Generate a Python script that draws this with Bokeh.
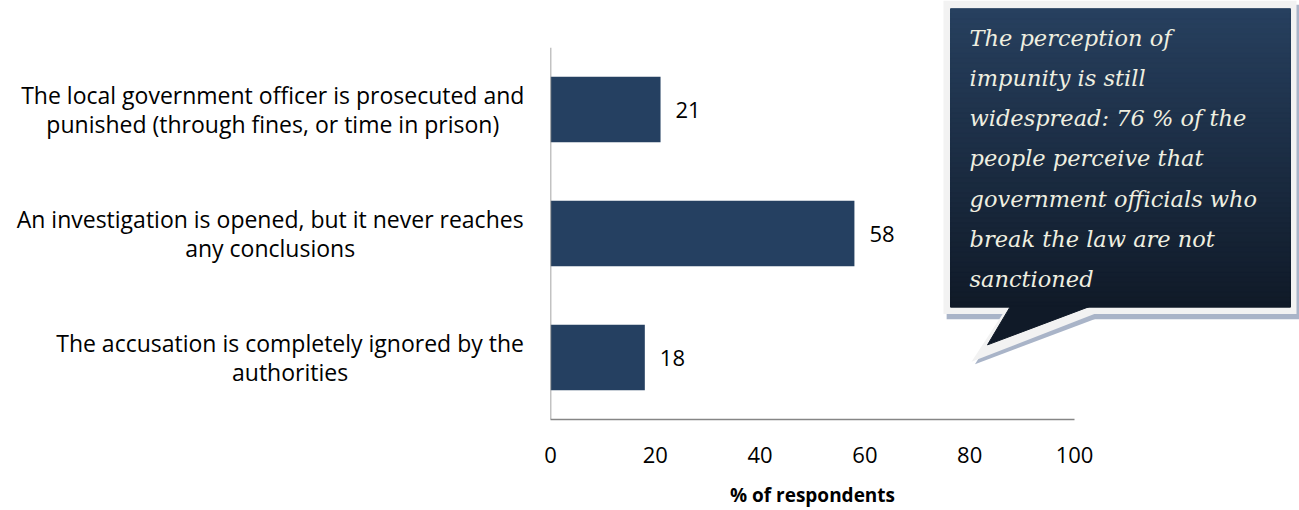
from bokeh.plotting import figure
from bokeh.models import ColumnDataSource, FactorRange, Range1d, FixedTicker, Span
from bokeh.core.properties import value
from bokeh.embed import file_html
from bokeh.resources import INLINE

# --- data -------------------------------------------------------------
categories = [
    "The local government officer is prosecuted and\npunished (through fines, or time in prison)",
    "An investigation is opened, but it never reaches\nany conclusions",
    "The accusation is completely ignored by the\nauthorities",
]
shares = [21, 58, 18]
x_ticks = [0, 20, 40, 60, 80, 100]
x_title = "% of respondents"

callout_lines = [
    "The perception of",
    "impunity is still",
    "widespread: 76 % of the",
    "people perceive that",
    "government officials who",
    "break the law are not",
    "sanctioned",
]

# --- styling ----------------------------------------------------------
BAR = "#254061"
AXIS = "#868686"
SANS = "Open Sans"
SERIF = "DejaVu Serif"
GRAD_TOP = "#27405f"
GRAD_BOTTOM = "#101a28"

# horizontal centre of each wrapped category label (x units, left of the axis)
label_centers = [-53.0, -53.5, -49.7]

p = figure(
    width=1299, height=510,
    x_range=Range1d(0, 100),
    y_range=FactorRange(factors=categories[::-1]),
    output_backend="svg", toolbar_location=None,
    min_border_left=550, min_border_right=225,
    min_border_top=47, min_border_bottom=89,
)
p.outline_line_color = None
p.grid.visible = False
p.background_fill_color = "white"
p.border_fill_color = "white"

# x axis
p.xaxis.ticker = FixedTicker(ticks=x_ticks)
p.xaxis.major_tick_line_color = None
p.xaxis.minor_tick_line_color = None
p.xaxis.axis_line_color = AXIS
p.xaxis.axis_line_width = 1.5
p.xaxis.major_label_text_font = SANS
p.xaxis.major_label_text_font_size = "22px"
p.xaxis.major_label_text_color = "black"
p.xaxis.major_label_standoff = 21
p.xaxis.axis_label = x_title
p.xaxis.axis_label_text_font = SANS
p.xaxis.axis_label_text_font_style = "bold"
p.xaxis.axis_label_text_font_size = "19px"
p.xaxis.axis_label_text_color = "black"
p.xaxis.axis_label_standoff = 16

# category axis: only its line is shown, labels are drawn as wrapped text
p.yaxis.visible = False
p.add_layout(Span(location=0, dimension="height", line_color=AXIS, line_width=1.5))

# bars and value labels
src = ColumnDataSource(dict(
    cat=categories,
    share=shares,
    txt=[str(v) for v in shares],
    cx=label_centers,
))
p.hbar(y="cat", right="share", left=0, height=0.53, source=src,
       fill_color=BAR, line_color=None)
p.text(x="share", y="cat", text="txt", source=src, x_offset=15,
       text_align="left", text_baseline="middle",
       text_font=value(SANS), text_font_size="22px", text_color="black")

# wrapped category labels, lines centred within each block
lab = p.text(x="cx", y="cat", text="cat", source=src,
             text_align="center", text_baseline="middle",
             text_font=value(SANS), text_font_size="23px", text_color="black",
             text_line_height=0.9)
lab.level = "overlay"

# --- speech-bubble callout ---------------------------------------------
def hex_to_rgb(h):
    h = h.lstrip("#")
    return tuple(int(h[i:i + 2], 16) for i in (0, 2, 4))

def blend(c1, c2, t):
    a, b = hex_to_rgb(c1), hex_to_rgb(c2)
    return "#%02x%02x%02x" % tuple(round(a[i] + (b[i] - a[i]) * t) for i in range(3))

# bubble body bounds (x in %, y in category units)
bx0, bx1 = 76.34, 141.22
by_top, by_bot = 3.313, 0.906

# drop shadow
sh = p.patches(
    xs=[[75.6, 142.94, 142.94, 75.6], [86.8, 81.0, 105.2]],
    ys=[[3.345, 3.345, 0.808, 0.808], [0.830, 0.445, 0.830]],
    fill_color="#a9b4c8", line_color=None,
)
sh.level = "overlay"

# light frame
fr = p.patches(
    xs=[[75.0, 142.37, 142.37, 75.0], [86.45, 80.34, 104.39]],
    ys=[[3.377, 3.377, 0.850, 0.850], [0.860, 0.465, 0.860]],
    fill_color="#f2f2f2", line_color=None,
)
fr.level = "overlay"

# vertical gradient fill of the body
n = 60
step = (by_top - by_bot) / n
tops = [by_top - i * step for i in range(n)]
bots = [max(t - step * 1.6, by_bot) for t in tops]
cols = [blend(GRAD_TOP, GRAD_BOTTOM, (i + 0.5) / n) for i in range(n)]
g = p.quad(left=bx0, right=bx1, top=tops, bottom=bots,
           fill_color=cols, line_color=cols, line_width=1)
g.level = "overlay"

tail = p.patch(x=[87.79, 83.40, 103.05], y=[0.914, 0.602, 0.914],
               fill_color=GRAD_BOTTOM, line_color=GRAD_BOTTOM, line_width=1)
tail.level = "overlay"

# callout text
line_gap = 0.3249
csrc = ColumnDataSource(dict(
    x=[79.96] * len(callout_lines),
    y=[3.080 - i * line_gap for i in range(len(callout_lines))],
    t=callout_lines,
))
ct = p.text(x="x", y="y", text="t", source=csrc,
            text_align="left", text_baseline="middle",
            text_font=value(SERIF), text_font_style="italic",
            text_font_size="22.5px", text_color="#efefe0")
ct.level = "overlay"

open("out.html", "w").write(file_html(p, INLINE))
